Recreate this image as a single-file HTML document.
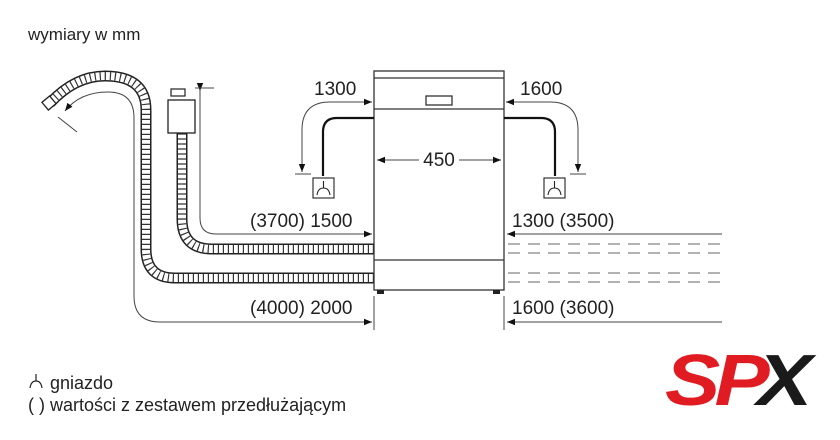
<!DOCTYPE html>
<html><head><meta charset="utf-8"><style>
html,body{margin:0;padding:0;background:#fff;width:840px;height:440px;overflow:hidden}
svg{display:block}
text{font-family:"Liberation Sans",sans-serif;fill:#222}
</style></head><body>
<svg width="840" height="440" viewBox="0 0 840 440">
<defs>
<marker id="a" viewBox="0 0 10 10" refX="10" refY="5" markerWidth="8" markerHeight="8" orient="auto-start-reverse"><path d="M0,1 L10,5 L0,9z" fill="#111"/></marker>
</defs>
<text x="28" y="40" font-size="17">wymiary w mm</text>

<g fill="none">
<path d="M374,278 L175,278 Q146,278 146,249 L146,110 Q146,76 105,76 Q75,76 50,103" stroke="#222" stroke-width="11"/>
<path d="M374,278 L175,278 Q146,278 146,249 L146,110 Q146,76 105,76 Q75,76 50,103" stroke="#fff" stroke-width="8"/>
<path d="M374,278 L175,278 Q146,278 146,249 L146,110 Q146,76 105,76 Q75,76 50,103" stroke="#333" stroke-width="8" stroke-dasharray="1.2 3.8"/>
<path d="M374,249 L212,249 Q182,249 182,219 L182,133" stroke="#222" stroke-width="11"/>
<path d="M374,249 L212,249 Q182,249 182,219 L182,133" stroke="#fff" stroke-width="8"/>
<path d="M374,249 L212,249 Q182,249 182,219 L182,133" stroke="#333" stroke-width="8" stroke-dasharray="1.2 3.8"/>
</g>
<rect x="44" y="98" width="10" height="10" transform="rotate(-40 49 103)" fill="#fff" stroke="#222" stroke-width="1.3"/>
<rect x="168" y="100" width="27" height="33" fill="#fff" stroke="#222" stroke-width="1.3"/>
<rect x="171" y="89" width="14" height="7" fill="#fff" stroke="#222" stroke-width="1.2"/>
<line x1="174" y1="96" x2="182" y2="96" stroke="#222"/>

<g fill="none" stroke="#444" stroke-width="1">
<path d="M200,91 L200,218 Q200,234 216,234 L372,234" marker-end="url(#a)"/>
<path d="M200,91 L200,88" marker-start="url(#a)"/>
<line x1="195" y1="88" x2="214" y2="88"/>
<path d="M372,322 L160,322 Q134,322 134,296 L134,118 Q134,92 108,92 Q80,92 65,111" marker-start="url(#a)" marker-end="url(#a)"/>
<line x1="58" y1="117" x2="77" y2="132"/>
<line x1="374" y1="296" x2="374" y2="330"/>
<line x1="504" y1="296" x2="504" y2="330"/>
<path d="M507,234 L722,234" marker-start="url(#a)"/>
<path d="M507,322 L722,322" marker-start="url(#a)"/>
<path d="M372,102 L330,102 Q302,102 302,130 L302,172" marker-start="url(#a)" marker-end="url(#a)"/>
<line x1="295" y1="174" x2="311" y2="174"/>
<path d="M506,102 L550,102 Q578,102 578,130 L578,172" marker-start="url(#a)" marker-end="url(#a)"/>
<line x1="570" y1="174" x2="586" y2="174"/>
</g>
<g stroke="#666" stroke-width="1" stroke-dasharray="12 8">
<line x1="508" y1="244" x2="722" y2="244"/><line x1="508" y1="253" x2="722" y2="253"/>
<line x1="508" y1="273" x2="722" y2="273"/><line x1="508" y1="282" x2="722" y2="282"/>
</g>

<g fill="none" stroke="#333" stroke-width="1.3">
<rect x="374" y="71" width="130" height="219" fill="#fff"/>
<line x1="374" y1="78" x2="504" y2="78"/>
<line x1="374" y1="109" x2="504" y2="109"/>
<line x1="374" y1="260" x2="504" y2="260"/>
<rect x="426" y="96" width="26" height="9"/>
</g>
<rect x="377" y="290" width="7" height="4" fill="#222"/>
<rect x="493" y="290" width="7" height="4" fill="#222"/>
<g stroke="#444" fill="none">
<path d="M419,160 L377,160" marker-end="url(#a)"/>
<path d="M459,160 L501,160" marker-end="url(#a)"/>
</g>
<text x="439" y="166" font-size="19" text-anchor="middle">450</text>

<g fill="none" stroke="#111" stroke-width="2.2">
<path d="M374,118 L337,118 Q323,118 323,132 L323,176"/>
<path d="M504,118 L541,118 Q555,118 555,132 L555,176"/>
</g>
<g fill="none" stroke="#222" stroke-width="1.1">
<rect x="313" y="178" width="21" height="20" fill="#fff"/>
<path d="M323.5,181 L323.5,188 M317,195 Q318,188 323.5,188 Q329,188 330,195"/>
<rect x="544" y="178" width="21" height="20" fill="#fff"/>
<path d="M554.5,181 L554.5,188 M548,195 Q549,188 554.5,188 Q560,188 561,195"/>
</g>

<g font-size="19">
<text x="314" y="95">1300</text>
<text x="520" y="95">1600</text>
<text x="250" y="227">(3700) 1500</text>
<text x="512" y="227">1300 (3500)</text>
<text x="250" y="314">(4000) 2000</text>
<text x="512" y="314">1600 (3600)</text>
</g>

<g fill="none" stroke="#222" stroke-width="1.2"><path d="M36,374 L36,381 M30,388 Q31,381 36,381 Q41,381 42,388"/></g>
<text x="50" y="389" font-size="18">gniazdo</text>
<text x="28" y="411" font-size="18">( ) wartości z zestawem przedłużającym</text>

<g transform="translate(665,405) scale(1.15,1)">
<text x="0" y="0" font-size="72" font-weight="bold" font-style="italic" style="fill:#e11b22;letter-spacing:-5px">SP</text>
<text x="80" y="0" font-size="72" font-weight="bold" font-style="italic" style="fill:#1a1a1a">X</text>
</g>
</svg>
</body></html>
